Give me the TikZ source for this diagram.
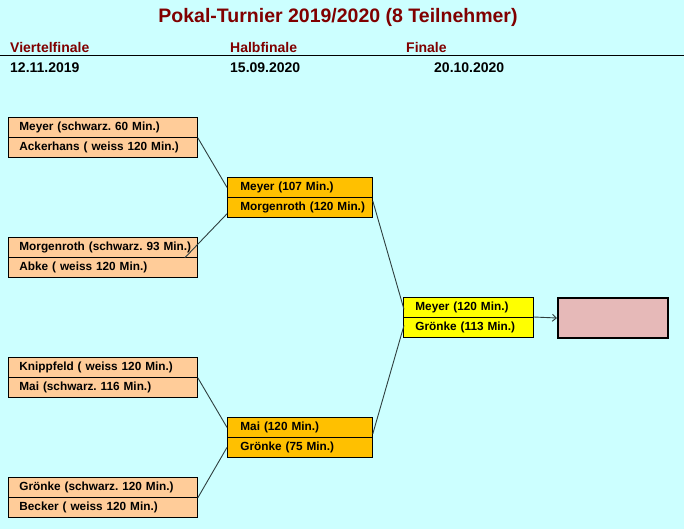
\documentclass[tikz,border=0pt]{standalone}
\usepackage{fontspec}
\setmainfont{Liberation Sans}
\usetikzlibrary{calc,arrows.meta}
\frenchspacing
\definecolor{bg}{HTML}{CCFFFF}
\definecolor{qfill}{HTML}{FFCC99}
\definecolor{sfill}{HTML}{FFC000}
\definecolor{ffill}{HTML}{FFFF00}
\definecolor{wfill}{HTML}{E6B9B8}
\definecolor{dred}{HTML}{800000}
\definecolor{conn}{HTML}{2F3F3F}
\tikzset{
  row/.style={draw=black, line width=0.8pt, anchor=north west, minimum height=20pt,
     inner ysep=0pt, inner xsep=0pt, align=left, font=\bfseries\fontsize{11.8}{14}\selectfont},
  qrow/.style={row, fill=qfill, text width=189pt, execute at begin node=\hspace*{11pt}},
  srow/.style={row, fill=sfill, text width=145pt, execute at begin node=\hspace*{13pt}},
  frow/.style={row, fill=ffill, text width=130pt, execute at begin node=\hspace*{12pt}},
  winbox/.style={draw=black, line width=2pt, fill=wfill, anchor=north west, minimum width=110pt, minimum height=40pt, inner sep=0pt},
  link/.style={draw=conn, line width=0.9pt},
  head/.style={anchor=west, text=dred, font=\bfseries\fontsize{14}{16}\selectfont, inner sep=0pt},
  datum/.style={anchor=west, font=\bfseries\fontsize{14}{16}\selectfont, inner sep=0pt},
}
\begin{document}
\begin{tikzpicture}[x=1pt,y=-1pt]
\fill[bg] (0,0) rectangle (684,529);
\useasboundingbox (0,0) rectangle (684,529);
\node[text=dred, font=\bfseries\fontsize{19.5}{22}\selectfont, inner sep=0pt] (title) at (338,17) {Pokal-Turnier 2019/2020 (8 Teilnehmer)};
\node[head] (h1) at (10,47) {Viertelfinale};
\node[head] (h2) at (230,47) {Halbfinale};
\node[head] (h3) at (406,47) {Finale};
\coordinate (la) at (0,56);
\coordinate (lb) at (684,56);
\draw[line width=1pt] (la) -- (lb);
\node[datum] (d1) at (10,68) {12.11.2019};
\node[datum] (d2) at (230,68) {15.09.2020};
\node[datum] (d3) at (434,68) {20.10.2020};
% Viertelfinale
\node[qrow] (q1a) at (8,117) {Meyer (schwarz. 60 Min.)};
\node[qrow] (q1b) at (8,137) {Ackerhans ( weiss 120 Min.)};
\node[qrow] (q2a) at (8,237) {Morgenroth (schwarz. 93 Min.)};
\node[qrow] (q2b) at (8,257) {Abke ( weiss 120 Min.)};
\node[qrow] (q3a) at (8,357) {Knippfeld ( weiss 120 Min.)};
\node[qrow] (q3b) at (8,377) {Mai (schwarz. 116 Min.)};
\node[qrow] (q4a) at (8,477) {Grönke (schwarz. 120 Min.)};
\node[qrow] (q4b) at (8,497) {Becker ( weiss 120 Min.)};
% Halbfinale
\node[srow] (s1a) at (227,177) {Meyer (107 Min.)};
\node[srow] (s1b) at (227,197) {Morgenroth (120 Min.)};
\node[srow] (s2a) at (227,417) {Mai (120 Min.)};
\node[srow] (s2b) at (227,437) {Grönke (75 Min.)};
% Finale
\node[frow] (f1a) at (403,297) {Meyer (120 Min.)};
\node[frow] (f1b) at (403,317) {Grönke (113 Min.)};
\node[winbox] (w) at (557,297) {};
% connectors
\draw[link] (q1a.south east) -- (s1a.west);
\draw[link] ($(q2a.south east)+(-13,0)$) -- ($(s1b.south west)+(0,-4)$);
\draw[link] ($(s1b.north east)+(0,4)$) -- ($(f1a.west)+(1,2)$);
\draw[link] (q3a.south east) -- (s2a.west);
\draw[link] (q4a.south east) -- (s2b.west);
\draw[link] ($(s2a.south east)+(0,-4)$) -- ($(f1b.west)+(1,-2)$);
\draw[link, -{Straight Barb[length=4pt,width=7pt]}] (f1b.north east) -- (w.west);
\end{tikzpicture}
\end{document}
